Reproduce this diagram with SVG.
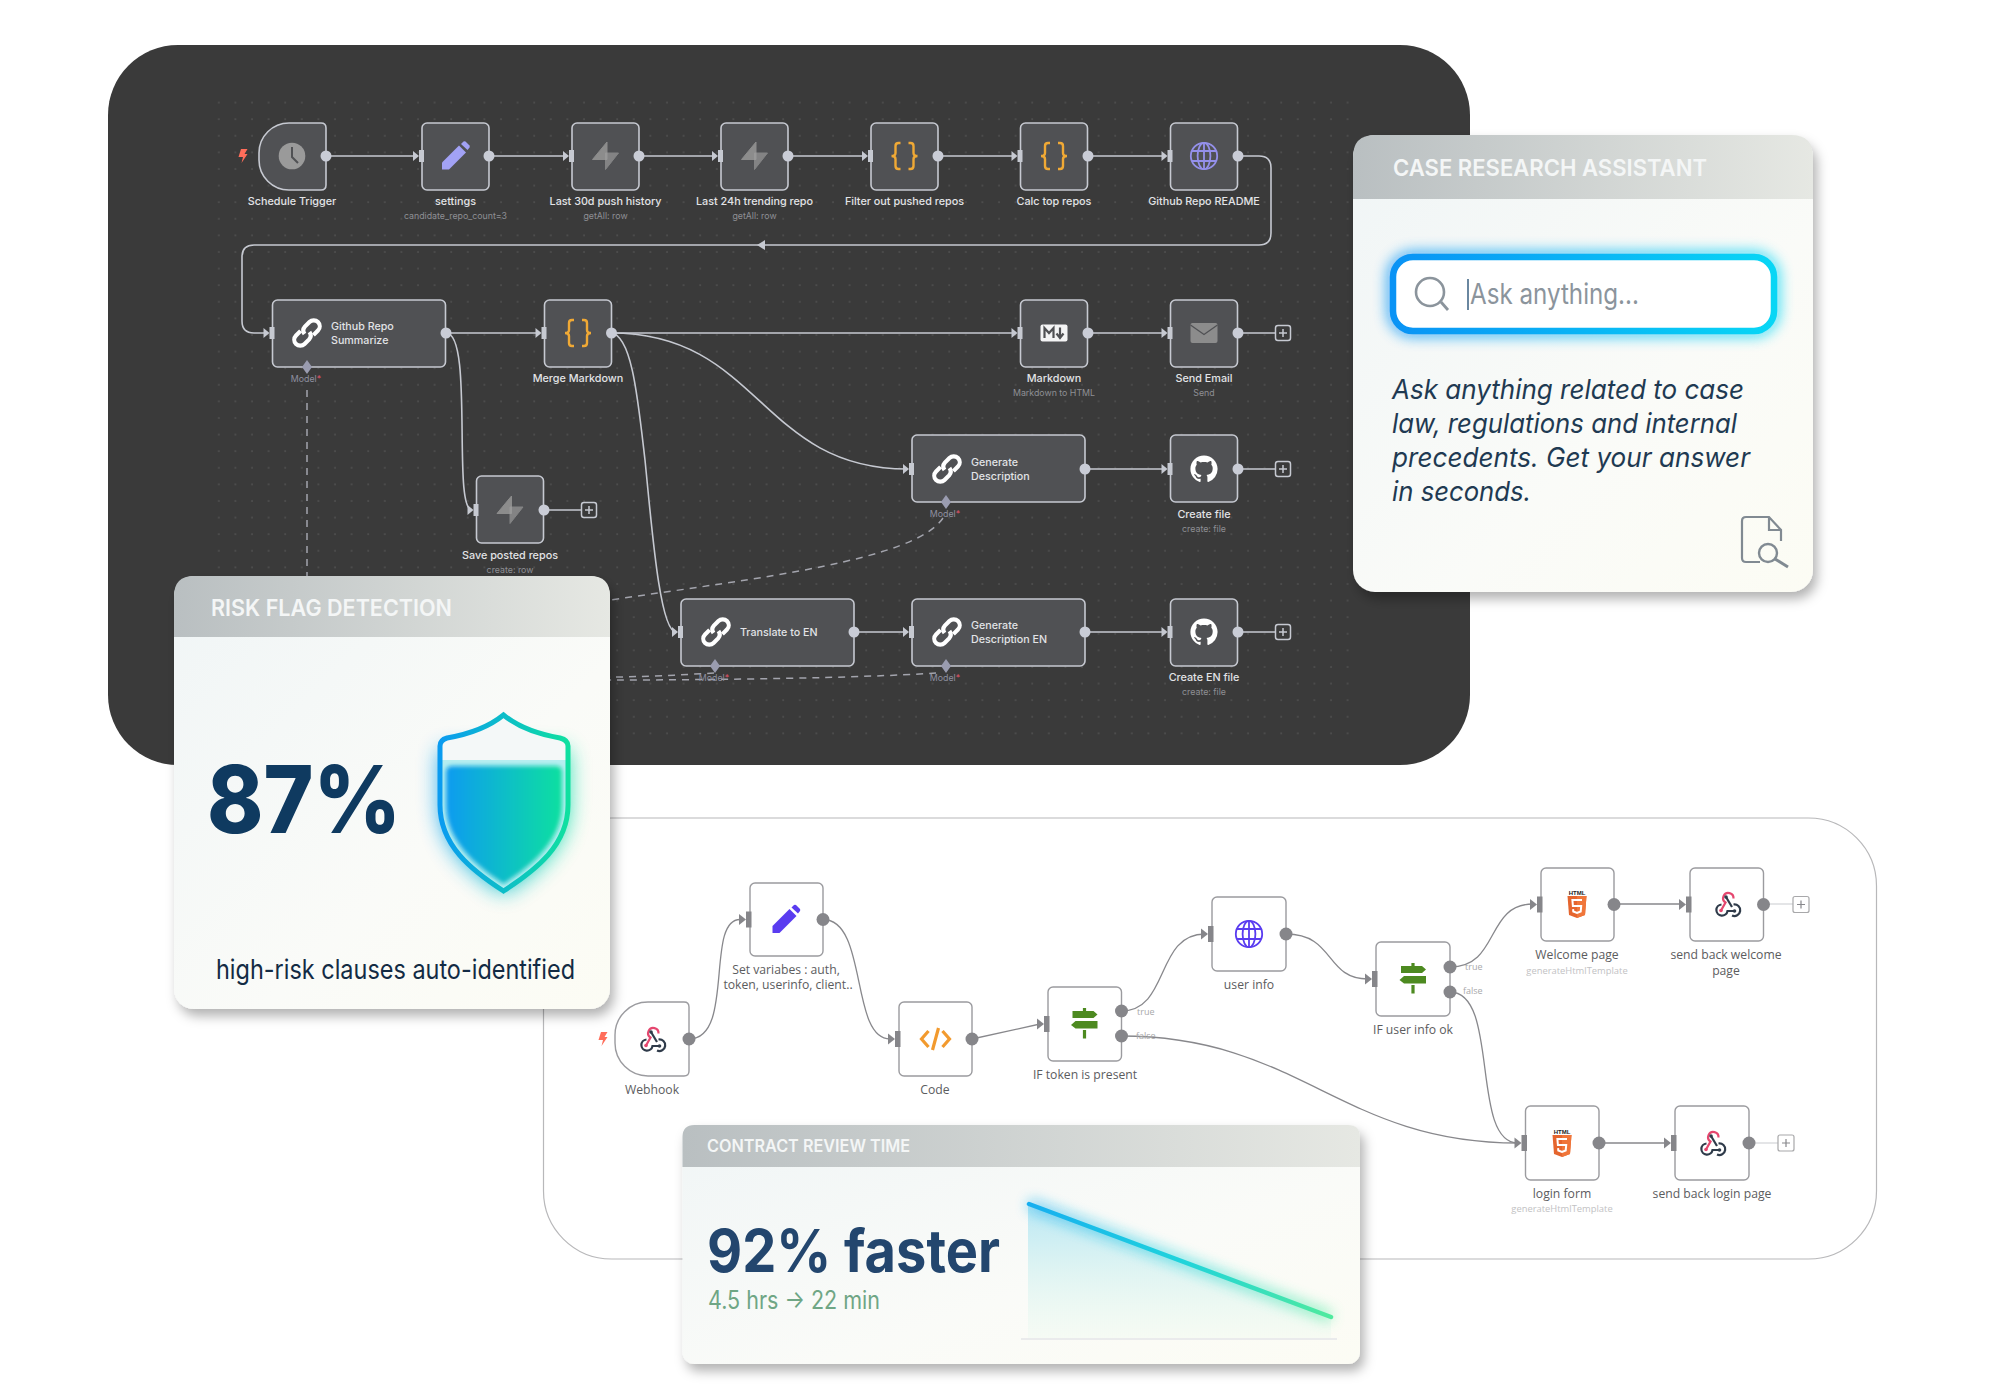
<svg xmlns="http://www.w3.org/2000/svg" xmlns:xlink="http://www.w3.org/1999/xlink" width="2000" height="1400" viewBox="0 0 2000 1400">
<style>
.l{font:500 10.8px Inter,"Liberation Sans",sans-serif;fill:#e2e3e6;text-anchor:middle}
.n{font:500 10.7px Inter,"Liberation Sans",sans-serif;fill:#e2e3e6}
.s{font:400 8.8px Inter,"Liberation Sans",sans-serif;fill:#8e8f94;text-anchor:middle}
.m{font:400 8.8px Inter,"Liberation Sans",sans-serif;fill:#8f90a0;text-anchor:middle}
.m tspan{fill:#e0556a}
.bl{font:400 12.2px "Open Sans","Liberation Sans",sans-serif;fill:#5c5c5e;text-anchor:middle}
.bs{font:400 9.4px "Open Sans","Liberation Sans",sans-serif;fill:#c2c2c4;text-anchor:middle}
.tf{font:400 9px "Open Sans","Liberation Sans",sans-serif;fill:#a8a8aa}
.box{fill:#505154;stroke:#c6c9d1;stroke-width:1.6}
.wbox{fill:#fff;stroke:#9b9b9f;stroke-width:1.4}
.c{fill:none;stroke:#c6c9d1;stroke-width:1.6}
.d{fill:none;stroke:#a3a4ad;stroke-width:1.5;stroke-dasharray:7 6}
.w{fill:none;stroke:#88888c;stroke-width:1.3}
.title{font-family:Inter,"Liberation Sans",sans-serif;font-weight:600;fill:#f4f6f6}
</style>
<defs>
<pattern id="dots" width="16.6" height="16.6" patternUnits="userSpaceOnUse"><circle cx="3" cy="3" r="0.8" fill="#5c5c5c"/></pattern>
<linearGradient id="hd" x1="0" x2="1" y1="0" y2="0"><stop offset="0" stop-color="#b9bfc1"/><stop offset="1" stop-color="#e6e8e3"/></linearGradient>
<linearGradient id="bd" x1="0" x2="1" y1="0" y2="1"><stop offset="0" stop-color="#f0f5f6"/><stop offset="0.6" stop-color="#fafbf8"/><stop offset="1" stop-color="#fcfcf4"/></linearGradient>
<linearGradient id="sh" x1="0" x2="1" y1="0" y2="0"><stop offset="0" stop-color="#0a9bf0"/><stop offset="1" stop-color="#0fe0a0"/></linearGradient>
<linearGradient id="sr" x1="0" x2="1" y1="0" y2="0"><stop offset="0" stop-color="#0a93f5"/><stop offset="1" stop-color="#08d6f5"/></linearGradient>
<linearGradient id="ln" gradientUnits="userSpaceOnUse" x1="1028" y1="1203" x2="1331" y2="1317"><stop offset="0" stop-color="#16aef0"/><stop offset="0.5" stop-color="#1fd3dc"/><stop offset="1" stop-color="#4fea9e"/></linearGradient>
<linearGradient id="ar" x1="0" x2="0" y1="0" y2="1"><stop offset="0" stop-color="#a8e2f4" stop-opacity=".8"/><stop offset="1" stop-color="#d8f6e6" stop-opacity=".15"/></linearGradient>
<filter id="shadow" x="-10%" y="-10%" width="125%" height="125%"><feDropShadow dx="4" dy="7" stdDeviation="6" flood-color="#000" flood-opacity=".3"/></filter>
<filter id="glow" x="-40%" y="-40%" width="180%" height="180%"><feGaussianBlur stdDeviation="11"/></filter>
<filter id="glow2" x="-10%" y="-40%" width="120%" height="180%"><feGaussianBlur stdDeviation="7"/></filter>
<filter id="soft" x="-10%" y="-10%" width="120%" height="120%"><feGaussianBlur stdDeviation="2"/></filter>
<clipPath id="shieldclip"><path d="M503.500 715C490 726 470 734 447 738Q440 740 440 746V805C440 845 471 870 503.500 891C536 870 568 845 568 805V746Q568 740 560 738C537 734 517 726 503.500 715Z"/></clipPath>
<g id="in"><path d="M-9 -5L-3 0L-9 5Z" fill="#c6c9d1"/><rect x="-3" y="-6" width="5" height="12" fill="#c6c9d1"/></g>
<g id="inw"><path d="M-11 -5.500L-4 0L-11 5.500Z" fill="#86868a"/><rect x="-4" y="-8" width="5.500" height="16" fill="#86868a"/></g>
<circle id="out" r="5.500" fill="#c9ccd6"/>
<circle id="outw" r="6.500" fill="#86868a"/>
<g id="plus"><rect x="-7.500" y="-7.500" width="15" height="15" rx="2.500" fill="#3a3a3a" stroke="#c6c9d1" stroke-width="1.500"/><path d="M-4 0H4M0 -4V4" stroke="#c6c9d1" stroke-width="1.500"/></g>
<g id="plusw"><rect x="-8" y="-8" width="16" height="16" rx="2" fill="#fff" stroke="#a8a8aa" stroke-width="1.200"/><path d="M-4 0H4M0 -4V4" stroke="#88888c" stroke-width="1.200"/></g>
<path id="bolt" d="M-2 -7H4.500L1.500 -2H4.500L-1.500 7L0 1H-4.500Z" fill="#ff6d5a"/>
<g id="pencil" fill="currentColor"><path d="M-13.500 13.500V6.500L3.500 -10.500L10.500 -3.500L-6.500 13.500Z"/><path d="M5.500 -12L8 -14.500Q9 -15 10 -14.500L14 -10.500Q14.500 -9.500 14 -8.500L12 -6Z"/></g>
<g id="braces" fill="none" stroke="#f0a935" stroke-width="2.400"><path d="M-4 -13H-6Q-9 -13 -9 -10V-3Q-9 0 -13 0Q-9 0 -9 3V10Q-9 13 -6 13H-4"/><path d="M4 -13H6Q9 -13 9 -10V-3Q9 0 13 0Q9 0 9 3V10Q9 13 6 13H4"/></g>
<g id="supa"><path d="M1.500 -14L1.500 3.500H-13Z" fill="#8c8c8c" stroke="#8c8c8c" stroke-linejoin="round"/><path d="M0 13.500V-3H13Z" fill="#9f9f9f" stroke="#9f9f9f" stroke-linejoin="round" opacity=".65"/></g>
<g id="globe" fill="none" stroke="currentColor" stroke-width="1.800"><circle r="13.200"/><ellipse rx="6.400" ry="13.200"/><path d="M0 -13V13M-12 -5H12M-12 5H12"/></g>
<g id="chain" fill="none" stroke="#fff" stroke-width="4.200"><g transform="rotate(-45)"><path d="M-3 -6H-9.500A6 6 0 0 0 -9.500 6H-3A6 6 0 0 0 2.500 1"/><path d="M3 6H9.500A6 6 0 0 0 9.500 -6H3A6 6 0 0 0 -2.500 -1"/></g></g>
<path id="gh" transform="translate(-13.600 -13.600) scale(1.700)" fill="#fff" d="M8 0C3.580 0 0 3.580 0 8c0 3.540 2.290 6.530 5.470 7.590.4.070.55-.17.55-.38 0-.19-.01-.82-.01-1.490-2.010.37-2.530-.49-2.690-.94-.09-.23-.48-.94-.82-1.130-.28-.15-.68-.52-.01-.53.63-.01 1.080.58 1.230.82.72 1.210 1.870.87 2.330.66.07-.52.28-.87.51-1.070-1.780-.2-3.640-.89-3.640-3.950 0-.87.31-1.590.82-2.150-.08-.2-.36-1.020.08-2.120 0 0 .67-.21 2.200.82.64-.18 1.320-.27 2-.27s1.360.09 2 .27c1.530-1.040 2.200-.82 2.200-.82.44 1.100.16 1.920.08 2.120.51.56.82 1.270.82 2.150 0 3.070-1.870 3.750-3.650 3.950.29.25.54.73.54 1.480 0 1.070-.01 1.930-.01 2.200 0 .21.15.46.55.38A8.013 8.013 0 0016 8c0-4.420-3.580-8-8-8z"/>
<g id="hook" fill="none" stroke-width="2.200"><path d="M-6 6.500L-1.500 -1.500A5.200 5.200 0 1 1 6.500 -5.500" stroke="#e5476f"/><circle cx="-6" cy="6.500" r="1.800" fill="#e5476f" stroke="none"/><path d="M-1 -7L5 3" stroke="#2f3b4a"/><circle cx="-1" cy="-7" r="1.800" fill="#2f3b4a" stroke="none"/><path d="M-5.500 0.500A5.600 5.600 0 1 0 0.500 7H7.500" stroke="#2f3b4a"/><path d="M6.500 0.500A5.800 5.800 0 1 1 5 11.500" stroke="#2f3b4a"/><circle cx="7.500" cy="7" r="1.800" fill="#2f3b4a" stroke="none"/></g>
<g id="html"><text x="0" y="-9.500" text-anchor="middle" style="font:800 6px 'Liberation Sans',sans-serif;fill:#222">HTML</text><path d="M-9.500 -8H9.500L8 11L0 14L-8 11Z" fill="#e5652e"/><path d="M0 -8H9.500L8 11L0 14Z" fill="#f0763a"/><path d="M5 -4H-4.600L-4.100 2H4.200L3.700 7.500L0 9L-3.700 7.500L-3.900 5.200" fill="none" stroke="#fff" stroke-width="2"/></g>
<g id="sign" fill="#4d8a20"><path d="M-1.600 -15H1.600V-12H9L13 -8.500L9 -5H-12V-12H-1.600Z"/><path d="M13 -2V5.500H-9L-13.500 2L-9 -2Z"/><rect x="-1.600" y="7" width="3.200" height="8.500"/></g>
</defs>

<rect id="panel" x="108" y="45" width="1362" height="720" rx="70" fill="#3a3a3a"/>
<rect x="205" y="95" width="1145" height="640" fill="url(#dots)"/>
<rect id="bottom-frame" x="543.500" y="818" width="1333" height="441" rx="68" fill="#fff" stroke="#b8b8ba" stroke-width="1.200"/>

<g id="connectors">
<path class="c" d="M326 156H417M489 156H567M639 156H716M788 156H866M938 156H1015M1088 156H1165"/>
<path class="c" d="M1238 156H1259Q1271 156 1271 168V233Q1271 245 1259 245H254Q242 245 242 257V321Q242 333 254 333H267"/>
<path d="M765 240L757 245L765 250Z" fill="#c6c9d1"/>
<path class="c" d="M446 333H540M611 333H1015M1088 333H1165M1238 333H1276"/>
<path class="c" d="M446 333C474 333 452 510 472 510"/>
<path class="c" d="M611 333C760 333 760 469 907 469"/>
<path class="c" d="M611 333C632 335 638 400 645 460C652 530 660 632 676 632"/>
<path class="c" d="M544 510H582M854 632H907M1085 632H1165M1238 632H1276M1085 469H1165M1238 469H1276"/>
<path class="d" d="M307 390V580"/>
<path class="d" d="M943 518C915 560 760 578 610 600"/>
<path class="d" d="M714 673C680 675 640 677 610 677"/>
<path class="d" d="M936 673C860 678 720 680 610 680"/>
<path class="w" d="M689 1039C735 1039 705 919.500 740 919.500"/>
<path class="w" d="M823 919.500C868 919.500 850 1039 890 1039"/>
<path class="w" d="M972 1039L1040 1024"/>
<path class="w" d="M1121 1011C1170 1011 1155 934 1205 934"/>
<path class="w" d="M1286 934C1335 934 1325 979 1368 979"/>
<path class="w" d="M1450 967C1500 967 1485 904 1533 904"/>
<path class="w" d="M1450 992C1500 992 1470 1143 1518 1143"/>
<path class="w" d="M1121 1036C1300 1036 1340 1143 1518 1143"/>
<path class="w" d="M1614 904H1682M1599 1143H1667"/>
<path d="M1763 904H1793M1749 1143H1778" fill="none" stroke="#dcdde0" stroke-width="1.300"/>
</g>

<g id="n-schedule"><use href="#bolt" x="243" y="156"/><path class="box" d="M289 123H321Q326 123 326 128V185Q326 190 321 190H289A30 30 0 0 1 259 160V153A30 30 0 0 1 289 123Z"/><circle cx="292" cy="156" r="13.300" fill="#9a9a9a"/><path d="M292 147V157L298 163" fill="none" stroke="#505154" stroke-width="2"/><use href="#out" x="326" y="156"/><text class="l" x="292" y="205">Schedule Trigger</text></g>
<g id="n-settings"><rect class="box" x="422" y="123" width="67" height="67" rx="5"/><use href="#pencil" x="455.500" y="156" color="#a2a2f5"/><use href="#in" x="422" y="156"/><use href="#out" x="489" y="156"/><text class="l" x="455.500" y="205">settings</text><text class="s" x="455.500" y="219">candidate_repo_count=3</text></g>
<g id="n-push"><rect class="box" x="572" y="123" width="67" height="67" rx="5"/><use href="#supa" x="605.500" y="156"/><use href="#in" x="572" y="156"/><use href="#out" x="639" y="156"/><text class="l" x="605.500" y="205">Last 30d push history</text><text class="s" x="605.500" y="219">getAll: row</text></g>
<g id="n-trend"><rect class="box" x="721" y="123" width="67" height="67" rx="5"/><use href="#supa" x="754.500" y="156"/><use href="#in" x="721" y="156"/><use href="#out" x="788" y="156"/><text class="l" x="754.500" y="205">Last 24h trending repo</text><text class="s" x="754.500" y="219">getAll: row</text></g>
<g id="n-filter"><rect class="box" x="871" y="123" width="67" height="67" rx="5"/><use href="#braces" x="904.500" y="156"/><use href="#in" x="871" y="156"/><use href="#out" x="938" y="156"/><text class="l" x="904.500" y="205">Filter out pushed repos</text></g>
<g id="n-calc"><rect class="box" x="1020.500" y="123" width="67" height="67" rx="5"/><use href="#braces" x="1054" y="156"/><use href="#in" x="1020.500" y="156"/><use href="#out" x="1088" y="156"/><text class="l" x="1054" y="205">Calc top repos</text></g>
<g id="n-readme"><rect class="box" x="1170.500" y="123" width="67" height="67" rx="5"/><use href="#globe" x="1204" y="156" color="#9490ea"/><use href="#in" x="1170.500" y="156"/><use href="#out" x="1238" y="156"/><text class="l" x="1204" y="205">Github Repo README</text></g>

<g id="n-summarize"><rect class="box" x="272.500" y="300" width="173" height="67" rx="5"/><use href="#chain" x="307" y="333"/><text class="n" x="331" y="330">Github Repo</text><text class="n" x="331" y="344">Summarize</text><use href="#in" x="272.500" y="333"/><use href="#out" x="446" y="333"/><path d="M307 360L312 367L307 374L302 367Z" fill="#9a9cb0"/><text class="m" x="306" y="382">Model<tspan>*</tspan></text></g>
<g id="n-merge"><rect class="box" x="544.500" y="300" width="67" height="67" rx="5"/><use href="#braces" x="578" y="333"/><use href="#in" x="544.500" y="333"/><use href="#out" x="611.500" y="333"/><text class="l" x="578" y="382">Merge Markdown</text></g>
<g id="n-markdown"><rect class="box" x="1020.500" y="300" width="67" height="67" rx="5"/><rect x="1040.500" y="324.500" width="27" height="17" rx="2" fill="#f4f4f5"/><path d="M1044.500 338V328L1049 333L1053.500 328V338" fill="none" stroke="#505154" stroke-width="2.200"/><path d="M1060 327.500V337M1056.500 333.500L1060 338L1063.500 333.500" fill="none" stroke="#505154" stroke-width="2.200"/><use href="#in" x="1020.500" y="333"/><use href="#out" x="1088" y="333"/><text class="l" x="1054" y="382">Markdown</text><text class="s" x="1054" y="396">Markdown to HTML</text></g>
<g id="n-email"><rect class="box" x="1170.500" y="300" width="67" height="67" rx="5"/><rect x="1190.500" y="323" width="27" height="20" rx="2" fill="#8c8c8c"/><path d="M1190.500 325L1204 334.500L1217.500 325" fill="none" stroke="#505154" stroke-width="1.300"/><use href="#in" x="1170.500" y="333"/><use href="#out" x="1238" y="333"/><use href="#plus" x="1283" y="333"/><text class="l" x="1204" y="382">Send Email</text><text class="s" x="1204" y="396">Send</text></g>
<g id="n-save"><rect class="box" x="476.500" y="476" width="67" height="67" rx="5"/><use href="#supa" x="510" y="510"/><use href="#in" x="476.500" y="510"/><use href="#out" x="544" y="510"/><use href="#plus" x="589" y="510"/><text class="l" x="510" y="559">Save posted repos</text><text class="s" x="510" y="573">create: row</text></g>
<g id="n-gendesc"><rect class="box" x="912" y="435" width="173" height="67" rx="5"/><use href="#chain" x="947" y="469"/><text class="n" x="971" y="466">Generate</text><text class="n" x="971" y="480">Description</text><use href="#in" x="912" y="469"/><use href="#out" x="1085" y="469"/><path d="M946 495L951 502L946 509L941 502Z" fill="#9a9cb0"/><text class="m" x="945" y="517">Model<tspan>*</tspan></text></g>
<g id="n-createfile"><rect class="box" x="1170.500" y="435" width="67" height="67" rx="5"/><use href="#gh" x="1204" y="469"/><use href="#in" x="1170.500" y="469"/><use href="#out" x="1238" y="469"/><use href="#plus" x="1283" y="469"/><text class="l" x="1204" y="518">Create file</text><text class="s" x="1204" y="532">create: file</text></g>
<g id="n-translate"><rect class="box" x="681" y="599" width="173" height="67" rx="5"/><use href="#chain" x="716" y="632"/><text class="n" x="740" y="636">Translate to EN</text><use href="#in" x="681" y="632"/><use href="#out" x="854" y="632"/><path d="M715 659L720 666L715 673L710 666Z" fill="#9a9cb0"/><text class="m" x="714" y="681">Model<tspan>*</tspan></text></g>
<g id="n-gendescen"><rect class="box" x="912" y="599" width="173" height="67" rx="5"/><use href="#chain" x="947" y="632"/><text class="n" x="971" y="629">Generate</text><text class="n" x="971" y="643">Description EN</text><use href="#in" x="912" y="632"/><use href="#out" x="1085" y="632"/><path d="M946 659L951 666L946 673L941 666Z" fill="#9a9cb0"/><text class="m" x="945" y="681">Model<tspan>*</tspan></text></g>
<g id="n-createen"><rect class="box" x="1170.500" y="599" width="67" height="67" rx="5"/><use href="#gh" x="1204" y="632"/><use href="#in" x="1170.500" y="632"/><use href="#out" x="1238" y="632"/><use href="#plus" x="1283" y="632"/><text class="l" x="1204" y="681">Create EN file</text><text class="s" x="1204" y="695">create: file</text></g>

<g id="w-webhook"><use href="#bolt" x="603" y="1039"/><path class="wbox" d="M648 1002H684Q689 1002 689 1007V1071Q689 1076 684 1076H648A33 33 0 0 1 615 1043V1035A33 33 0 0 1 648 1002Z"/><use href="#hook" x="652" y="1039"/><use href="#outw" x="689" y="1039"/><text class="bl" x="652" y="1094">Webhook</text></g>
<g id="w-set"><rect class="wbox" x="750" y="883" width="73" height="73" rx="5"/><use href="#pencil" x="786" y="919.500" color="#5a3cf0"/><use href="#inw" x="750" y="919.500"/><use href="#outw" x="823" y="919.500"/><text class="bl" x="786" y="974">Set variabes : auth,</text><text class="bl" x="788" y="989">token, userinfo, client..</text></g>
<g id="w-code"><rect class="wbox" x="899" y="1002" width="73" height="74" rx="5"/><path d="M928.500 1031L921.500 1039L928.500 1047M942.500 1031L949.500 1039L942.500 1047M938.500 1028L932.500 1050" fill="none" stroke="#f29a2e" stroke-width="3.200"/><use href="#inw" x="899" y="1039"/><use href="#outw" x="972" y="1039"/><text class="bl" x="935" y="1094">Code</text></g>
<g id="w-iftoken"><rect class="wbox" x="1048" y="987" width="73.500" height="74" rx="5"/><use href="#sign" x="1084.500" y="1023"/><use href="#inw" x="1048" y="1024"/><use href="#outw" x="1121.500" y="1011"/><use href="#outw" x="1121.500" y="1036"/><text class="tf" x="1137" y="1015">true</text><text class="tf" x="1136" y="1039">false</text><text class="bl" x="1085" y="1079">IF token is present</text></g>
<g id="w-user"><rect class="wbox" x="1212" y="897" width="74" height="74" rx="5"/><use href="#globe" x="1249" y="934" color="#5a3cf0"/><use href="#inw" x="1212" y="934"/><use href="#outw" x="1286" y="934"/><text class="bl" x="1249" y="989">user info</text></g>
<g id="w-ifuser"><rect class="wbox" x="1376" y="942" width="74" height="74" rx="5"/><use href="#sign" x="1413" y="978"/><use href="#inw" x="1376" y="979"/><use href="#outw" x="1450" y="967"/><use href="#outw" x="1450" y="992"/><text class="tf" x="1465" y="970">true</text><text class="tf" x="1463" y="994">false</text><text class="bl" x="1413" y="1034">IF user info ok</text></g>
<g id="w-welcome"><rect class="wbox" x="1541" y="868" width="73" height="73" rx="5"/><use href="#html" x="1577" y="904"/><use href="#inw" x="1541" y="904.500"/><use href="#outw" x="1614" y="904.500"/><text class="bl" x="1577" y="959">Welcome page</text><text class="bs" x="1577" y="974">generateHtmlTemplate</text></g>
<g id="w-sendwelcome"><rect class="wbox" x="1690" y="868" width="73.500" height="73" rx="5"/><use href="#hook" x="1727" y="904"/><use href="#inw" x="1690" y="904.500"/><use href="#outw" x="1763.500" y="904.500"/><use href="#plusw" x="1801" y="904.500"/><text class="bl" x="1726" y="959">send back welcome</text><text class="bl" x="1726" y="975">page</text></g>
<g id="w-login"><rect class="wbox" x="1525.500" y="1106" width="73.500" height="74" rx="5"/><use href="#html" x="1562" y="1143"/><use href="#inw" x="1525.500" y="1143"/><use href="#outw" x="1599" y="1143"/><text class="bl" x="1562" y="1198">login form</text><text class="bs" x="1562" y="1212">generateHtmlTemplate</text></g>
<g id="w-sendlogin"><rect class="wbox" x="1675" y="1106" width="74" height="74" rx="5"/><use href="#hook" x="1712" y="1143"/><use href="#inw" x="1675" y="1143"/><use href="#outw" x="1749" y="1143"/><use href="#plusw" x="1786" y="1143"/><text class="bl" x="1712" y="1198">send back login page</text></g>

<g id="card-case">
<rect x="1353" y="135" width="460" height="457" rx="22" fill="url(#bd)" filter="url(#shadow)"/>
<path d="M1353 199V157Q1353 135 1375 135H1791Q1813 135 1813 157V199Z" fill="url(#hd)"/>
<text class="title" x="1393" y="176" font-size="23.500" textLength="314" lengthAdjust="spacingAndGlyphs">CASE RESEARCH ASSISTANT</text>
<rect x="1393" y="257" width="381" height="74" rx="20" fill="none" stroke="url(#sr)" stroke-width="12" filter="url(#glow2)" opacity=".75"/>
<rect x="1393" y="257" width="381" height="74" rx="20" fill="#fff" stroke="url(#sr)" stroke-width="6.500"/>
<circle cx="1430" cy="292" r="14" fill="none" stroke="#8b949c" stroke-width="2.600"/>
<path d="M1441 302L1448 310" stroke="#8b949c" stroke-width="2.800"/>
<path d="M1468 279V310" stroke="#5a7a96" stroke-width="1.800"/>
<text x="1470" y="304" font-family="Inter,'Liberation Sans',sans-serif" font-size="28" fill="#8b949c" textLength="169" lengthAdjust="spacingAndGlyphs">Ask anything...</text>
<g font-family="Inter,'Liberation Sans',sans-serif" font-style="italic" font-size="27.500" fill="#1f3a52">
<text x="1392" y="399" textLength="352" lengthAdjust="spacingAndGlyphs">Ask anything related to case</text>
<text x="1392" y="433" textLength="345" lengthAdjust="spacingAndGlyphs">law, regulations and internal</text>
<text x="1392" y="467" textLength="358" lengthAdjust="spacingAndGlyphs">precedents. Get your answer</text>
<text x="1392" y="501" textLength="139" lengthAdjust="spacingAndGlyphs">in seconds.</text>
</g>
<path d="M1760 562H1746Q1742 562 1742 558V521Q1742 517 1746 517H1769L1781 530V541M1769 517V530H1781" fill="none" stroke="#818a92" stroke-width="2.200"/>
<circle cx="1768" cy="553" r="9" fill="none" stroke="#818a92" stroke-width="2.400"/>
<path d="M1775 559L1788 567" stroke="#818a92" stroke-width="3"/>
</g>

<g id="card-risk">
<rect x="174" y="576" width="436" height="433" rx="20" fill="url(#bd)" filter="url(#shadow)"/>
<path d="M174 637V596Q174 576 194 576H590Q610 576 610 596V637Z" fill="url(#hd)"/>
<text class="title" x="211" y="616" font-size="23" textLength="241" lengthAdjust="spacingAndGlyphs">RISK FLAG DETECTION</text>
<text x="207" y="833" font-family="Inter,'Liberation Sans',sans-serif" font-weight="800" font-size="93" fill="#0f3a60" textLength="194" lengthAdjust="spacingAndGlyphs">87%</text>
<path d="M440 750H568V805C568 845 537 872 503.500 893C470 872 440 845 440 805Z" fill="url(#sh)" filter="url(#glow)" opacity=".9"/>
<path d="M503.500 715C490 726 470 734 447 738Q440 740 440 746V805C440 845 471 870 503.500 891C536 870 568 845 568 805V746Q568 740 560 738C537 734 517 726 503.500 715Z" fill="#f4f8f8"/>
<g clip-path="url(#shieldclip)"><rect x="437" y="760" width="134" height="135" fill="#b5eef0"/><path d="M446 772Q446 766 452 766H556Q562 766 562 772V805C562 840 533 865 503.500 884C474 865 446 840 446 805Z" fill="url(#sh)" filter="url(#soft)"/></g>
<path d="M503.500 715C490 726 470 734 447 738Q440 740 440 746V805C440 845 471 870 503.500 891C536 870 568 845 568 805V746Q568 740 560 738C537 734 517 726 503.500 715Z" fill="none" stroke="url(#sh)" stroke-width="5"/>
<path d="M440 760H568" stroke="url(#sh)" stroke-width="5"/>
<text x="216" y="979" font-family="Inter,'Liberation Sans',sans-serif" font-size="27" fill="#132b44" textLength="359" lengthAdjust="spacingAndGlyphs">high-risk clauses auto-identified</text>
</g>

<g id="card-contract">
<rect x="682.500" y="1125" width="677.500" height="239" rx="12" fill="url(#bd)" filter="url(#shadow)"/>
<path d="M682.500 1167V1137Q682.500 1125 694.500 1125H1348Q1360 1125 1360 1137V1167Z" fill="url(#hd)"/>
<text class="title" x="707" y="1152" font-size="17.500" font-weight="500" textLength="203" lengthAdjust="spacingAndGlyphs">CONTRACT REVIEW TIME</text>
<text x="707" y="1272" font-family="Inter,'Liberation Sans',sans-serif" font-weight="700" font-size="59" fill="#23466e" textLength="293" lengthAdjust="spacingAndGlyphs">92% faster</text>
<text x="708" y="1309" font-family="Inter,'Liberation Sans',sans-serif" font-size="25" fill="#6fa685" textLength="172" lengthAdjust="spacingAndGlyphs">4.5 hrs → 22 min</text>
<path d="M1028 1203L1331 1317V1338H1028Z" fill="url(#ar)"/>
<path d="M1021 1339H1337" stroke="#e4e6e8" stroke-width="1.600"/>
<path d="M1029 1204L1331 1317" stroke="url(#ln)" stroke-width="9" filter="url(#glow2)" opacity=".7" fill="none"/>
<path d="M1029 1204L1331 1317" stroke="url(#ln)" stroke-width="4.500" stroke-linecap="round" fill="none"/>
</g>
</svg>
